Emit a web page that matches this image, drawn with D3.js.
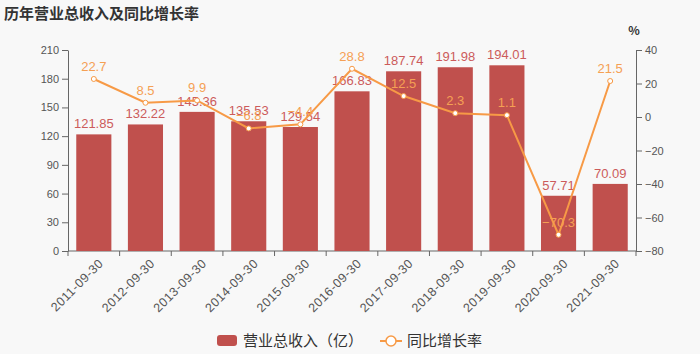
<!DOCTYPE html>
<html lang="zh">
<head>
<meta charset="UTF-8">
<title>历年营业总收入及同比增长率</title>
<style>
    body { margin: 0; background: #f8f8f8; }
    svg { display: block; font-family: "Noto Sans CJK SC", "Noto Sans", sans-serif; }
    .axis path, .axis line { stroke: #666; }
    .axis text { fill: #555; font-size: 11px; font-family: "Liberation Sans", Arial, sans-serif; }
    .axis .xl { font-size: 12.5px; letter-spacing: 0.5px; }
</style>
<script src="https://d3js.org/d3.v7.min.js"></script>
</head>
<body>
<div id="chart"></div>
<script>
    // data
    var dates = ["2011-09-30","2012-09-30","2013-09-30","2014-09-30","2015-09-30","2016-09-30",
        "2017-09-30","2018-09-30","2019-09-30","2020-09-30","2021-09-30"];
    var revenue = [121.85,132.22,145.36,135.53,129.54,166.83,187.74,191.98,194.01,57.71,70.09];
    var growth = [22.7,8.5,9.9,-6.8,-4.4,28.8,12.5,2.3,1.1,-70.3,21.5];
    var leftTicks = [0,30,60,90,120,150,180,210];
    var rightTicks = [-80,-60,-40,-20,0,20,40];

    var width = 700, height = 354;
    var margin = {left: 68, right: 64, top: 50, bottom: 103};
    var barColor = "#c0504d", lineColor = "#f79a46";

    var svg = d3.select("#chart").append("svg")
        .attr("width", width)
        .attr("height", height);

    svg.append("rect").attr("width", width).attr("height", height).attr("fill", "#f8f8f8");

    svg.append("text")
        .attr("x", 4).attr("y", 19)
        .style("font-size", "15px").style("font-weight", "bold").style("fill", "#333")
        .text("历年营业总收入及同比增长率");

    var x = d3.scaleBand()
        .domain(dates)
        .range([margin.left, width - margin.right])
        .paddingInner(0.32).paddingOuter(0.16);

    // band for the ticks (boundaries between categories)
    var xb = d3.scaleBand().domain(dates).range([margin.left, width - margin.right]);

    var yL = d3.scaleLinear().domain([0, 210]).range([height - margin.bottom, margin.top]);
    var yR = d3.scaleLinear().domain([-80, 40]).range([height - margin.bottom, margin.top]);

    // x axis
    var xAxis = svg.append("g")
        .attr("class", "axis")
        .attr("transform", "translate(0," + (height - margin.bottom) + ")");
    xAxis.append("line")
        .attr("x1", margin.left).attr("x2", width - margin.right)
        .attr("stroke", "#666");
    xAxis.selectAll(".tk")
        .data(dates.concat(["end"]))
        .enter().append("line")
        .attr("x1", function(d, i){ return margin.left + i * xb.bandwidth(); })
        .attr("x2", function(d, i){ return margin.left + i * xb.bandwidth(); })
        .attr("y1", 0).attr("y2", 5)
        .attr("stroke", "#666");
    xAxis.selectAll(".lbl")
        .data(dates)
        .enter().append("text")
        .attr("class", "xl")
        .attr("transform", function(d){ return "translate(" + (xb(d) + xb.bandwidth() / 2 + 4) + ",7) rotate(-45)"; })
        .style("text-anchor", "end")
        .attr("dy", "0.7em")
        .text(function(d){ return d; });

    svg.append("g")
        .attr("class", "axis")
        .attr("transform", "translate(" + margin.left + ",0)")
        .call(d3.axisLeft(yL).tickValues(leftTicks).tickSizeOuter(0).tickPadding(3));

    svg.append("g")
        .attr("class", "axis")
        .attr("transform", "translate(" + (width - margin.right) + ",0)")
        .call(d3.axisRight(yR).tickValues(rightTicks).tickSizeOuter(0).tickPadding(3)
            .tickFormat(function(d){ return d < 0 ? "\u2212" + Math.abs(d) : d; }));

    svg.append("text")
        .attr("x", width - margin.right - 2).attr("y", 35)
        .style("font-size", "12px").style("font-weight", "bold").style("fill", "#333")
        .style("text-anchor", "middle")
        .text("%");

    // bars
    svg.selectAll(".bar")
        .data(revenue)
        .enter().append("rect")
        .attr("x", function(d, i){ return x(dates[i]); })
        .attr("y", function(d){ return yL(d); })
        .attr("width", x.bandwidth())
        .attr("height", function(d){ return yL(0) - yL(d); })
        .attr("fill", barColor);

    svg.selectAll(".barlbl")
        .data(revenue)
        .enter().append("text")
        .attr("x", function(d, i){ return x(dates[i]) + x.bandwidth() / 2; })
        .attr("y", function(d){ return yL(d) - 6; })
        .style("text-anchor", "middle")
        .style("font-size", "13px")
        .style("font-family", "'Liberation Sans', Arial, sans-serif")
        .style("fill", "#cc5b5b")
        .text(function(d){ return d.toFixed(2); });

    // line
    var line = d3.line()
        .x(function(d, i){ return xb(dates[i]) + xb.bandwidth() / 2; })
        .y(function(d){ return yR(d); });

    svg.append("path")
        .datum(growth)
        .attr("d", line)
        .attr("fill", "none")
        .attr("stroke", lineColor)
        .attr("stroke-width", 2);

    svg.selectAll(".pt")
        .data(growth)
        .enter().append("circle")
        .attr("cx", function(d, i){ return xb(dates[i]) + xb.bandwidth() / 2; })
        .attr("cy", function(d){ return yR(d); })
        .attr("r", 2.5)
        .attr("fill", "#fff")
        .attr("stroke", lineColor)
        .attr("stroke-width", 1);

    svg.selectAll(".ptlbl")
        .data(growth)
        .enter().append("text")
        .attr("x", function(d, i){ return xb(dates[i]) + xb.bandwidth() / 2; })
        .attr("y", function(d){ return yR(d) - 8; })
        .style("text-anchor", "middle")
        .style("font-size", "13px")
        .style("font-family", "'Liberation Sans', Arial, sans-serif")
        .style("fill", "#f5a054")
        .text(function(d){ return d < 0 ? "\u2212" + Math.abs(d) : d; });

    // legend
    var legend = svg.append("g").attr("transform", "translate(217,341)");
    legend.append("rect")
        .attr("x", 0).attr("y", -6).attr("width", 20).attr("height", 11).attr("rx", 3)
        .attr("fill", barColor);
    legend.append("text")
        .attr("x", 26).attr("y", 0).attr("dy", "0.35em")
        .style("font-size", "15px").style("fill", "#333")
        .text("营业总收入（亿）");
    legend.append("line")
        .attr("x1", 163).attr("x2", 185).attr("y1", 0).attr("y2", 0)
        .attr("stroke", lineColor).attr("stroke-width", 2);
    legend.append("circle")
        .attr("cx", 174).attr("cy", 0).attr("r", 5)
        .attr("fill", "#fff").attr("stroke", lineColor).attr("stroke-width", 1.5);
    legend.append("text")
        .attr("x", 190).attr("y", 0).attr("dy", "0.35em")
        .style("font-size", "15px").style("fill", "#333")
        .text("同比增长率");
</script>
</body>
</html>
